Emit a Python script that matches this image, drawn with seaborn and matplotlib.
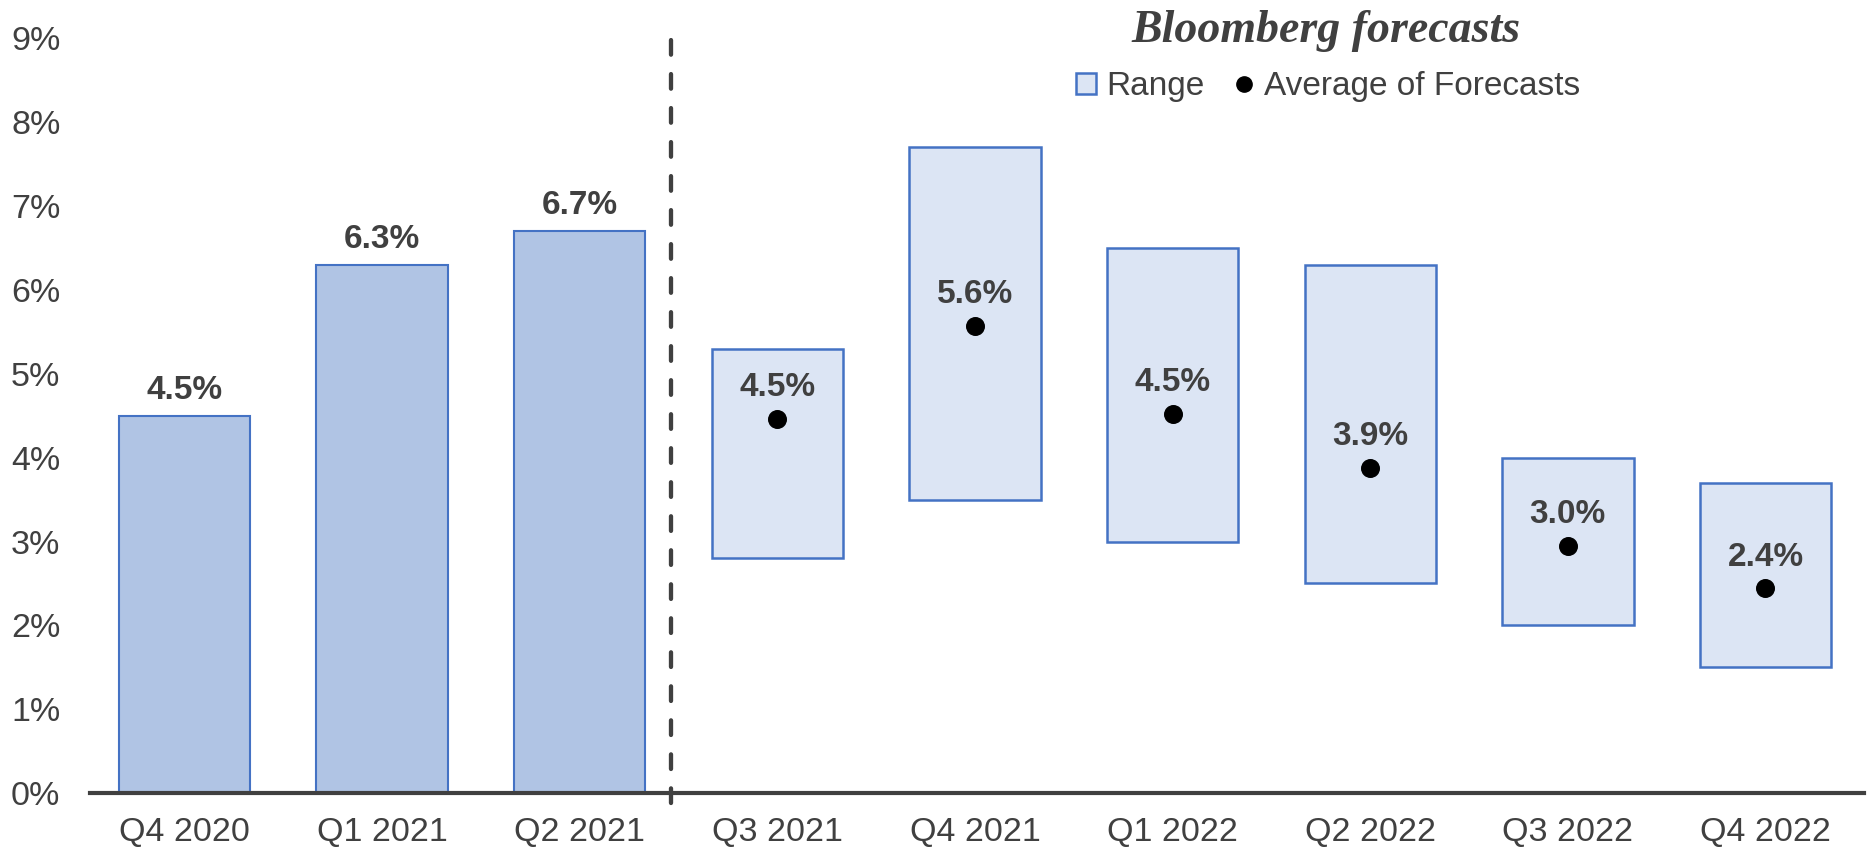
import numpy as np
import pandas as pd
import seaborn as sns
import matplotlib.pyplot as plt
from matplotlib.patches import Patch
from matplotlib.lines import Line2D
from matplotlib.ticker import FuncFormatter
plt.switch_backend('Agg')

QUARTERS = ['Q4 2020', 'Q1 2021', 'Q2 2021', 'Q3 2021', 'Q4 2021',
            'Q1 2022', 'Q2 2022', 'Q3 2022', 'Q4 2022']
ACTUAL_Q = ['Q4 2020', 'Q1 2021', 'Q2 2021']
ACTUAL = [4.5, 6.3, 6.7]
FORECAST_Q = ['Q3 2021', 'Q4 2021', 'Q1 2022', 'Q2 2022', 'Q3 2022', 'Q4 2022']
RANGE_LOW = [2.8, 3.5, 3.0, 2.5, 2.0, 1.5]
RANGE_HIGH = [5.3, 7.7, 6.5, 6.3, 4.0, 3.7]
AVERAGE = [4.46, 5.57, 4.52, 3.88, 2.95, 2.44]
AVG_LABELS = ['4.5%', '5.6%', '4.5%', '3.9%', '3.0%', '2.4%']

TEXT = '#404040'
EDGE = '#4472C4'

sns.set_theme(style='white')
plt.rcParams['font.family'] = ['Liberation Sans', 'DejaVu Sans']

fig = plt.figure(figsize=(18.68, 8.51), dpi=100)
ax = fig.add_axes([0.048, 0.068, 0.95, 0.887])

actual_df = pd.DataFrame({'quarter': ACTUAL_Q, 'value': ACTUAL})
sns.barplot(data=actual_df, x='quarter', y='value', order=QUARTERS,
            color='#B0C4E4', saturation=1, width=0.665,
            edgecolor=EDGE, linewidth=1.5, ax=ax)

pos = [QUARTERS.index(q) for q in FORECAST_Q]
heights = np.array(RANGE_HIGH) - np.array(RANGE_LOW)
ax.bar(pos, heights, bottom=RANGE_LOW, width=0.665, color='#DCE5F4',
       edgecolor=EDGE, linewidth=1.8, zorder=2)

fc_df = pd.DataFrame({'x': pos, 'avg': AVERAGE})
sns.scatterplot(data=fc_df, x='x', y='avg', color='black', s=160,
                edgecolor='black', zorder=4, ax=ax)

for q, v in zip(ACTUAL_Q, ACTUAL):
    ax.text(QUARTERS.index(q), v + 0.12, f'{v:.1f}%', ha='center', va='bottom',
            fontsize=24, fontweight='bold', color=TEXT)
for x, v, lab in zip(pos, AVERAGE, AVG_LABELS):
    ax.text(x, v + 0.19, lab, ha='center', va='bottom',
            fontsize=24, fontweight='bold', color=TEXT)

# separator between actuals and forecasts
ax.plot([2.46, 2.46], [-0.12, 9.05], color=TEXT, lw=3.1, ls=(0, (3.4, 4.5)),
        dash_capstyle='round', clip_on=False, zorder=5)

ax.set_xlim(-0.48, 8.5)
ax.set_ylim(0, 9)
ax.set_yticks(range(0, 10))
ax.yaxis.set_major_formatter(FuncFormatter(lambda v, p: f'{v:.0f}%'))
ax.set_xlabel('')
ax.set_ylabel('')
ax.tick_params(axis='both', length=0, labelsize=24.5, labelcolor=TEXT)
ax.tick_params(axis='x', pad=17)
ax.tick_params(axis='y', pad=21)
for s in ['top', 'right', 'left']:
    ax.spines[s].set_visible(False)
ax.spines['bottom'].set_color(TEXT)
ax.spines['bottom'].set_linewidth(3)
ax.spines['bottom'].set_zorder(6)

fig.text(0.71, 0.964, 'Bloomberg forecasts', ha='center', va='center',
         fontsize=33, fontweight='bold', fontstyle='italic',
         family=['Liberation Serif', 'DejaVu Serif'], color=TEXT)

handles = [Patch(facecolor='#DCE5F4', edgecolor=EDGE, linewidth=1.8),
           Line2D([], [], marker='o', color='black', ls='', markersize=11)]
fig.legend(handles, ['Range', 'Average of Forecasts'], loc='center',
           bbox_to_anchor=(0.711, 0.898), ncol=2, frameon=False,
           fontsize=24, labelcolor=TEXT, handlelength=0.6, handleheight=0.6,
           handletextpad=0.3, columnspacing=0.9)

fig.savefig('out.png', dpi=100)
